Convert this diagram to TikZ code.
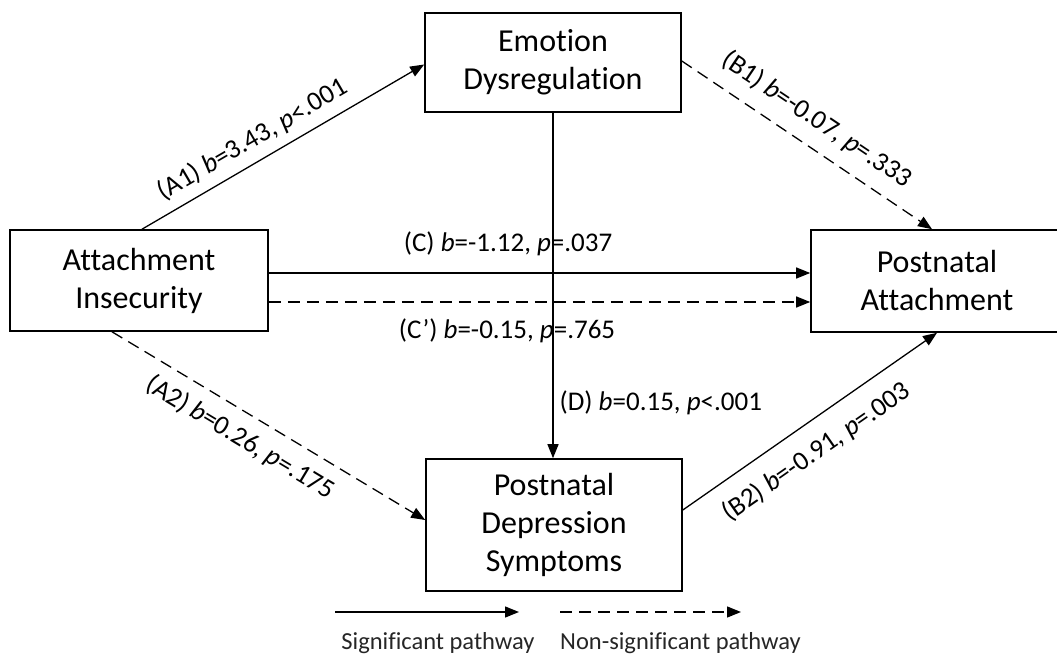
\documentclass[tikz,border=0pt]{standalone}
\usepackage{fontspec}
\setmainfont{Carlito}[Ligatures={TeX,NoCommon}]
\usetikzlibrary{arrows.meta}
\begin{document}
\begin{tikzpicture}[x=1pt,y=-1pt,
  box/.style={draw, line width=1.6pt, inner sep=0pt, align=center,
    font=\fontsize{32}{38}\selectfont},
  path/.style={line width=1.3pt, -{Triangle[length=14pt,width=11pt]}},
  nspath/.style={path, dash pattern=on 12pt off 7pt},
  lab/.style={font=\fontsize{27}{30}\selectfont, inner sep=0pt},
  legtext/.style={font=\fontsize{24.5}{28}\selectfont, inner sep=0pt, text=black!85}
]
\useasboundingbox (0,0) rectangle (1057,660);
\clip (0,0) rectangle (1057,660);

\node[box, minimum width=256pt, minimum height=99pt] (ed) at (553,62.5) {Emotion\\Dysregulation};
\node[box, minimum width=258pt, minimum height=101pt] (ai) at (139,280.5) {Attachment\\Insecurity};
\node[box, minimum width=252pt, minimum height=102pt] (pa) at (937,281) {Postnatal\\Attachment};
\node[box, minimum width=256pt, minimum height=132pt] (pd) at (554,525) {Postnatal\\Depression\\Symptoms};

% A1
\draw[path] ([xshift=3pt]ai.north) -- ([yshift=-2pt]ed.west)
  node[lab, sloped, above=9pt, pos=0.43] {(A1) \textit{b}=3.43, \textit{p}<.001};
% B1
\draw[nspath] ([yshift=1.5pt]ed.east) -- ([xshift=-5pt]pa.north)
  node[lab, sloped, above=14pt, pos=0.48] {(B1) \textit{b}=-0.07, \textit{p}=.333};
% C
\draw[path] ([yshift=7.5pt]ai.east) -- ([yshift=8pt]pa.west)
  node[lab, above=16pt, pos=0.442] {(C) \textit{b}=-1.12, \textit{p}=.037};
% C'
\draw[nspath] ([yshift=-21.5pt]ai.east) -- ([yshift=-21pt]pa.west)
  node[lab, below=16pt, pos=0.44] {(C’) \textit{b}=-0.15, \textit{p}=.765};
% D
\draw[path] (ed.south) -- ([xshift=-1pt]pd.north)
  node[lab, right=6pt, pos=0.84] {(D) \textit{b}=0.15, \textit{p}<.001};
% A2
\draw[nspath] ([xshift=-27pt]ai.south) -- ([yshift=5pt]pd.west)
  node[lab, sloped, below=12pt, pos=0.45] {(A2) \textit{b}=0.26, \textit{p}=.175};
% B2
\draw[path] ([yshift=15pt]pd.east) -- (pa.south)
  node[lab, sloped, below=16pt, pos=0.46] {(B2) \textit{b}=-0.91, \textit{p}=.003};

% legend
\coordinate (s1) at (335,612);
\coordinate (s2) at (519,612);
\coordinate (n1) at (560,612);
\coordinate (n2) at (741,612);
\draw[path] (s1) -- (s2);
\draw[nspath] (n1) -- (n2);
\node[legtext] (sig) at (438,643) {Significant pathway};
\node[legtext, anchor=west] (nsig) at (560,643) {Non-significant pathway};
\end{tikzpicture}
\end{document}
